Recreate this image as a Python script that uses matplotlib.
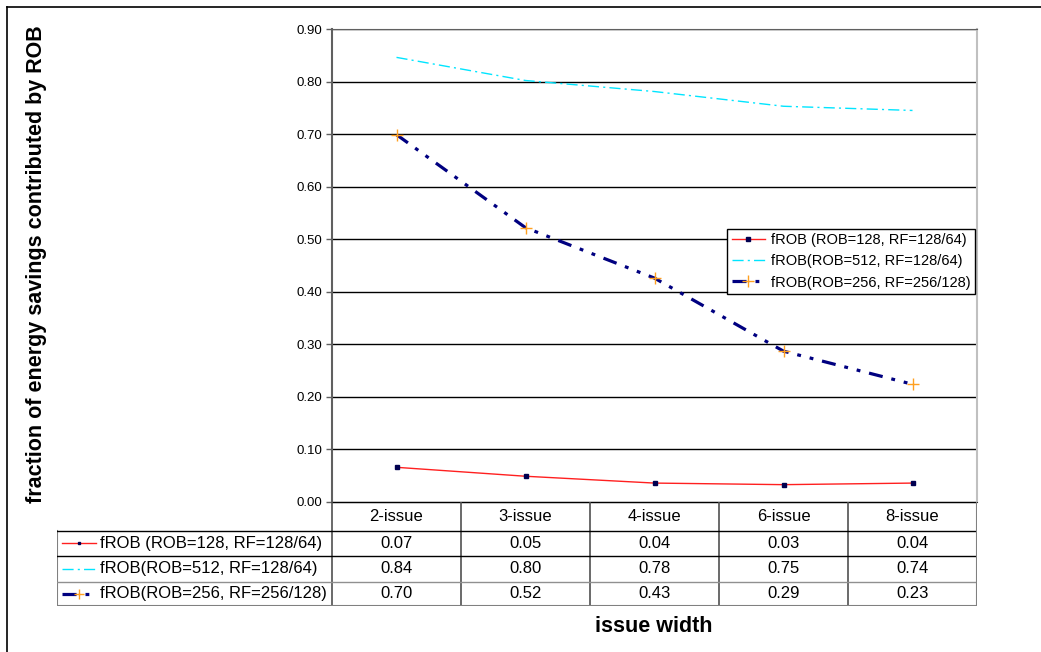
import matplotlib.pyplot as plt
import numpy as np

plt.rcParams['font.family'] = ['Liberation Sans', 'DejaVu Sans']

categories = ['2-issue', '3-issue', '4-issue', '6-issue', '8-issue']
labels = ['fROB (ROB=128, RF=128/64)', 'fROB(ROB=512, RF=128/64)', 'fROB(ROB=256, RF=256/128)']
rob128 = [0.066, 0.049, 0.036, 0.033, 0.036]
rob512 = [0.846, 0.802, 0.781, 0.753, 0.745]
rob256 = [0.699, 0.522, 0.426, 0.287, 0.224]
table_vals = [['0.07', '0.05', '0.04', '0.03', '0.04'],
              ['0.84', '0.80', '0.78', '0.75', '0.74'],
              ['0.70', '0.52', '0.43', '0.29', '0.23']]
yticks = np.arange(0, 0.91, 0.1)

W, H = 1041, 652
fig = plt.figure(figsize=(W / 100, H / 100), dpi=100)

# plot area in pixels
L, R, T, B = 332, 977, 29, 502
ax = fig.add_axes([L / W, 1 - B / H, (R - L) / W, (B - T) / H])
x = np.arange(len(categories))

styles = [
    dict(color='#ff2020', lw=1.0, ls='-', marker='s', ms=3, mfc='#000050', mec='#000050'),
    dict(color='#00e5ff', lw=1.0, ls=(0, (8, 3, 1.5, 3))),
    dict(color='#000080', lw=2.3, ls=(0, (4.4, 2.8, 1.2, 2.8, 1.2, 2.8)), marker='+', ms=8, mec='#ffa020', mew=1.0),
]
series = [rob128, rob512, rob256]
for vals, st, lab in zip(series, styles, labels):
    ax.plot(x, vals, label=lab, **st)

ax.set_xlim(-0.5, 4.5)
ax.set_ylim(0, 0.9)
ax.set_yticks(yticks)
ax.set_yticklabels(['%.2f' % v for v in yticks], fontsize=9.5)
ax.set_xticks([])
ax.grid(axis='y', color='black', lw=1)
ax.set_axisbelow(True)
ax.tick_params(axis='y', length=4, width=1, color='#606060', pad=3)
ax.spines['left'].set_color('#606060')
ax.spines['left'].set_linewidth(1.5)
ax.spines['top'].set_color('#606060')
ax.spines['bottom'].set_color('#303030')
ax.spines['right'].set_color('#c0c0c0')
ax.spines['right'].set_linewidth(1.5)

leg = ax.legend(loc='upper right', bbox_to_anchor=(0.997, 0.578), fontsize=10.5,
                frameon=True, fancybox=False, edgecolor='black', framealpha=1,
                borderpad=0.3, handlelength=2.3, labelspacing=0.5, handletextpad=0.4,
                borderaxespad=0)
leg.get_frame().set_linewidth(1.0)

# data table below the chart
TL, TB = 57, 606
tax = fig.add_axes([TL / W, 1 - TB / H, (R - TL) / W, (TB - B) / H])
x_left = -0.5 - (L - TL) / ((R - L) / 5)
tax.set_xlim(x_left, 4.5)
tax.set_ylim(TB, B)
tax.axis('off')
rows = [B, 531, 556, 582, TB]
tax.plot([-0.5, 4.5], [B, B], color='black', lw=1)
for xv in np.arange(-0.5, 4.6, 1):
    tax.plot([xv, xv], [B, TB], color='#505050', lw=1.2)
tax.plot([x_left, x_left], [531, TB], color='#808080', lw=1.5)
for yv in rows[1:4]:
    tax.plot([x_left, 4.5], [yv, yv], color='black' if yv < 580 else '#909090', lw=1)
tax.plot([x_left, 4.5], [TB, TB], color='#808080', lw=1.5)
tax.plot([4.5, 4.5], [B, TB], color='#808080', lw=1.5)
for i, c in enumerate(categories):
    tax.text(i, (B + 531) / 2, c, ha='center', va='center', fontsize=12)
for r, (st, lab, row) in enumerate(zip(styles, labels, table_vals)):
    yc = (rows[r + 1] + rows[r + 2]) / 2
    kx = np.array([x_left + 0.04, x_left + 0.3])
    st2 = {k: v for k, v in st.items() if k not in ('marker', 'ms', 'mfc', 'mec', 'mew')}
    tax.plot(kx, [yc, yc], **st2)
    if 'marker' in st:
        tax.plot([kx.mean()], [yc], ls='none', marker=st['marker'], ms=st['ms'] - 1,
                 mfc=st.get('mfc'), mec=st.get('mec'), mew=st.get('mew', 1))
    tax.text(x_left + 0.33, yc, lab, ha='left', va='center', fontsize=12)
    for i, v in enumerate(row):
        tax.text(i, yc, v, ha='center', va='center', fontsize=12)

fig.text(37 / W, 1 - 264 / H, 'fraction of energy savings contributed by ROB',
         rotation=90, ha='center', va='center', fontsize=15.5, fontweight='bold')
fig.text(654 / W, 1 - 627 / H, 'issue width', ha='center', va='center',
         fontsize=15.5, fontweight='bold')

# outer chart border (top and left edges visible)
fig.add_artist(plt.Line2D([7 / W, 1], [1 - 7 / H, 1 - 7 / H], color='black', lw=1.2))
fig.add_artist(plt.Line2D([7 / W, 7 / W], [1 - 7 / H, 0], color='black', lw=1.2))

fig.savefig('out.png', dpi=100)
